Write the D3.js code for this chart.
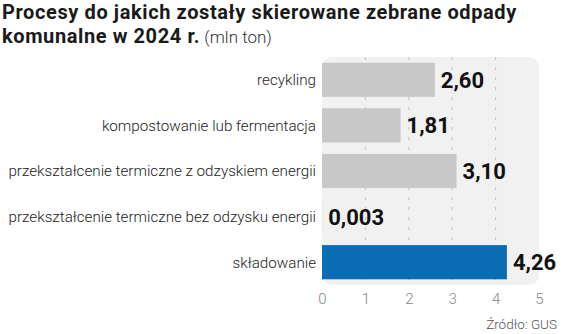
<!DOCTYPE html>
<html>
<head>
<meta charset="utf-8">
<script src="https://cdn.jsdelivr.net/npm/d3@7.9.0/dist/d3.min.js"></script>
<style>
  body { margin: 0; background: #fff; }
  svg { display: block; }
</style>
</head>
<body>
<div id="chart"></div>
<script>
// Data
const categories = [
  'recykling',
  'kompostowanie lub fermentacja',
  'przekształcenie termiczne z odzyskiem energii',
  'przekształcenie termiczne bez odzysku energii',
  'składowanie'
];
const values = [2.60, 1.81, 3.10, 0.003, 4.26];
const valueLabels = ['2,60', '1,81', '3,10', '0,003', '4,26'];
const tickValues = [0, 1, 2, 3, 4, 5];
const highlighted = ['składowanie'];

const W = 564, H = 334;
const plotL = 322, plotR = 539, plotT = 57, plotB = 285;

const svg = d3.select('#chart').append('svg')
  .attr('width', W).attr('height', H);

const x = d3.scaleLinear().domain([0, 5]).range([plotL, plotR]);
const y = d3.scaleBand().domain(categories).range([plotT, plotB]).paddingInner(0.25).paddingOuter(0.125);

// title (two lines)
const title = svg.append('g')
  .attr('font-family', 'Roboto')
  .attr('font-weight', 700)
  .attr('font-size', 20)
  .attr('letter-spacing', 0.6)
  .attr('fill', '#1a1a1a');
title.append('text').attr('x', 2).attr('y', 19).text('Procesy do jakich zostały skierowane zebrane odpady');
const t2 = title.append('text').attr('x', 2).attr('y', 43);
t2.append('tspan').text('komunalne w 2024 r.');
t2.append('tspan').attr('font-weight', 300).attr('font-size', 17).attr('letter-spacing', 0).attr('fill', '#333').text(' (mln ton)');

// plot background
svg.append('rect')
  .attr('x', plotL).attr('y', plotT)
  .attr('width', plotR - plotL).attr('height', plotB - plotT)
  .attr('rx', 10)
  .attr('fill', '#f1f1f1');

// grid
svg.append('g').selectAll('line')
  .data(tickValues.filter(d => d > 0 && d < 5))
  .join('line')
  .attr('x1', d => x(d)).attr('x2', d => x(d))
  .attr('y1', plotT).attr('y2', plotB)
  .attr('stroke', '#b8b8b8')
  .attr('stroke-width', 0.8)
  .attr('stroke-dasharray', '3,7');

// bars
svg.append('g').selectAll('rect')
  .data(categories)
  .join('rect')
  .attr('x', x(0))
  .attr('y', d => y(d))
  .attr('width', (d, i) => x(values[i]) - x(0))
  .attr('height', y.bandwidth())
  .attr('fill', d => highlighted.includes(d) ? '#0a6db3' : '#c8c8c8');

// value labels
svg.append('g').selectAll('text')
  .data(categories)
  .join('text')
  .attr('x', (d, i) => x(values[i]) + 6)
  .attr('y', d => y(d) + y.bandwidth() / 2)
  .attr('dy', '0.36em')
  .attr('font-family', 'Roboto')
  .attr('font-weight', 700)
  .attr('font-size', 22)
  .attr('fill', '#111')
  .text((d, i) => valueLabels[i]);

// category labels
svg.append('g').selectAll('text')
  .data(categories)
  .join('text')
  .attr('x', plotL - 6)
  .attr('y', d => y(d) + y.bandwidth() / 2)
  .attr('dy', '0.35em')
  .attr('text-anchor', 'end')
  .attr('font-family', 'Roboto')
  .attr('font-weight', 300)
  .attr('font-size', 15.2)
  .attr('fill', '#222')
  .text(d => d);

// x axis
const xAxis = d3.axisBottom(x).tickValues(tickValues).tickFormat(d3.format('d')).tickSize(0).tickPadding(8);
const gx = svg.append('g').attr('transform', `translate(0,${plotB})`).call(xAxis);
gx.select('.domain').remove();
gx.selectAll('text')
  .attr('font-family', 'Roboto')
  .attr('font-weight', 300)
  .attr('font-size', 15)
  .attr('fill', '#888');

// source
svg.append('text')
  .attr('x', 557).attr('y', 329)
  .attr('text-anchor', 'end')
  .attr('font-family', 'Roboto')
  .attr('font-weight', 300)
  .attr('font-size', 13.5)
  .attr('fill', '#555')
  .text('Źródło: GUS');
</script>
</body>
</html>
